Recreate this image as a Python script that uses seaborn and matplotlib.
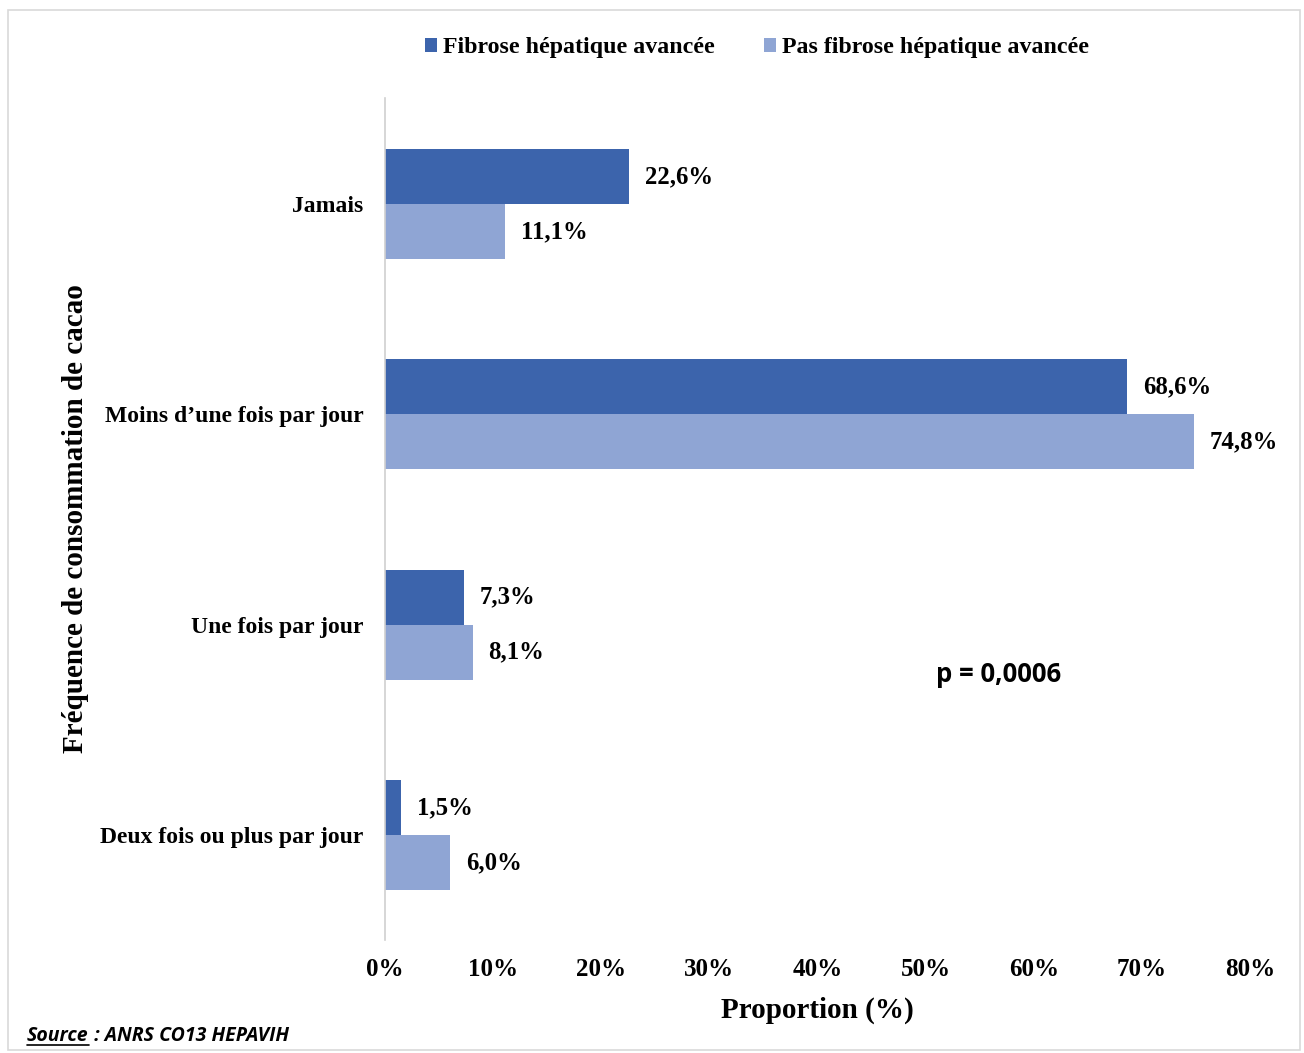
import matplotlib
matplotlib.use("Agg")
import matplotlib.pyplot as plt
import seaborn as sns
import pandas as pd
from matplotlib.patches import Rectangle
from matplotlib.lines import Line2D

categories = ["Jamais", "Moins d\u2019une fois par jour", "Une fois par jour", "Deux fois ou plus par jour"]
series_names = ["Fibrose h\u00e9patique avanc\u00e9e", "Pas fibrose h\u00e9patique avanc\u00e9e"]
fibrose = [22.6, 68.6, 7.3, 1.5]
pas_fibrose = [11.1, 74.8, 8.1, 6.0]
x_ticks = [0, 10, 20, 30, 40, 50, 60, 70, 80]
x_tick_labels = ["0%", "10%", "20%", "30%", "40%", "50%", "60%", "70%", "80%"]
colors = ["#3C64AC", "#8FA5D4"]

df = pd.DataFrame({
    "cat": categories * 2,
    "val": fibrose + pas_fibrose,
    "serie": [series_names[0]] * 4 + [series_names[1]] * 4,
})

sns.set_theme(style="white")
plt.rcParams["font.family"] = ["Liberation Serif", "DejaVu Serif"]
plt.rcParams["text.color"] = "black"
plt.rcParams["axes.labelcolor"] = "black"
plt.rcParams["xtick.color"] = "black"
plt.rcParams["ytick.color"] = "black"

fig = plt.figure(figsize=(13.04, 10.53), dpi=100)
ax = fig.add_axes([385 / 1304, 1 - 940 / 1053, (1250 - 385) / 1304, (940 - 98) / 1053])

sns.barplot(data=df, y="cat", x="val", hue="serie", orient="h", order=categories,
            hue_order=series_names, palette=colors, width=0.524, gap=0,
            linewidth=0, saturation=1, ax=ax, legend=True)

ax.set_xlim(0, 80)
ax.set_ylim(3.5, -0.505)
ax.set_xticks(x_ticks)
ax.set_xticklabels(x_tick_labels, fontsize=18, fontweight="bold")
ax.tick_params(axis="x", length=0, pad=13)
ax.tick_params(axis="y", length=0, pad=15.5)
for lab in ax.get_yticklabels():
    lab.set_fontsize(17)
    lab.set_fontweight("bold")
for s in ["top", "right", "bottom"]:
    ax.spines[s].set_visible(False)
ax.spines["left"].set_color("#D0D0D0")
ax.spines["left"].set_linewidth(1.2)
ax.grid(False)
ax.set_xlabel("Proportion (%)", fontsize=21, fontweight="bold", labelpad=11)
ax.set_ylabel("Fr\u00e9quence de consommation de cacao", fontsize=21, fontweight="bold", labelpad=8)

for cont in ax.containers:
    ax.bar_label(cont, labels=[f"{v:.1f}%".replace(".", ",") for v in cont.datavalues],
                 padding=11.5, fontsize=17.8, fontweight="bold")

ax.text(51, 2.235, "p = 0,0006", fontsize=18.5, fontweight="bold",
        family=["Open Sans", "DejaVu Sans"], va="center", ha="left")

leg = ax.get_legend()
handles = leg.legend_handles
leg.remove()
fig.legend(handles, series_names, loc="center", bbox_to_anchor=(757 / 1304, 1 - 48 / 1053),
           ncol=2, frameon=False, prop={"family": "Liberation Serif", "weight": "bold", "size": 17.2},
           handlelength=0.5, handleheight=0.5, handletextpad=0.25, columnspacing=2.1)

fig.patches.append(Rectangle((8 / 1304, 3 / 1053), 1292 / 1304, 1040 / 1053,
                             transform=fig.transFigure, fill=False, edgecolor="#D9D9D9", linewidth=1.2))

t1 = fig.text(27 / 1304, 1 - 1036 / 1053, "Source", fontsize=14, fontweight="bold", style="italic",
              family=["Open Sans", "DejaVu Sans"], va="center", ha="left")
fig.canvas.draw()
bb = t1.get_window_extent(renderer=fig.canvas.get_renderer())
fig.text(bb.x1 / 1304, 1 - 1036 / 1053, " : ANRS CO13 HEPAVIH", fontsize=14, fontweight="bold", style="italic",
         family=["Open Sans", "DejaVu Sans"], va="center", ha="left")
fig.lines.append(Line2D([bb.x0 / 1304, bb.x1 / 1304], [(bb.y0 + 1) / 1053, (bb.y0 + 1) / 1053],
                        transform=fig.transFigure, color="black", linewidth=1.2))

fig.savefig("out.png", dpi=100)
